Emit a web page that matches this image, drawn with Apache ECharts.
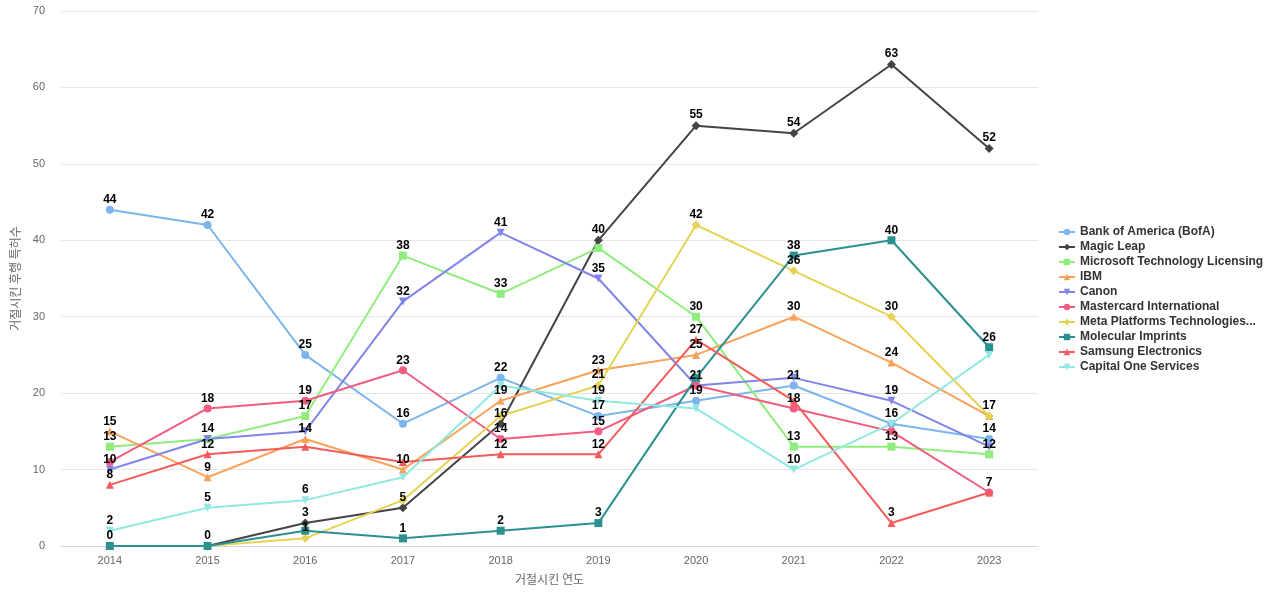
<!DOCTYPE html>
<html>
<head>
<meta charset="utf-8">
<script src="https://cdn.jsdelivr.net/npm/echarts@6/dist/echarts.min.js"></script>
<style>html,body{margin:0;padding:0;background:#fff;}#c{width:1280px;height:600px;}</style>
</head>
<body>
<div id="c"></div>
<script>
const years = ['2014','2015','2016','2017','2018','2019','2020','2021','2022','2023'];
const seriesNames = ['Bank of America (BofA)','Magic Leap','Microsoft Technology Licensing','IBM','Canon','Mastercard International','Meta Platforms Technologies...','Molecular Imprints','Samsung Electronics','Capital One Services'];
const bofa      = [44, 42, 25, 16, 22, 17, 19, 21, 16, 14];
const magicLeap = [null, 0, 3, 5, 16, 40, 55, 54, 63, 52];
const microsoft = [13, 14, 17, 38, 33, 39, 30, 13, 13, 12];
const ibm       = [15, 9, 14, 10, 19, 23, 25, 30, 24, 17];
const canon     = [10, 14, 15, 32, 41, 35, 21, 22, 19, 13];
const mastercard= [11, 18, 19, 23, 14, 15, 21, 18, 15, 7];
const meta      = [null, 0, 1, 6, 17, 21, 42, 36, 30, 17];
const molecular = [0, 0, 2, 1, 2, 3, 22, 38, 40, 26];
const samsung   = [8, 12, 13, 11, 12, 12, 27, 19, 3, 7];
const capitalOne= [2, 5, 6, 9, 21, 19, 18, 10, 16, 25];
const yTicks = [0, 10, 20, 30, 40, 50, 60, 70];

const allData = [bofa, magicLeap, microsoft, ibm, canon, mastercard, meta, molecular, samsung, capitalOne];
const colors = ['#7cb5ec','#434348','#90ed7d','#f7a35c','#8085e9','#f15c80','#e4d354','#2b908f','#f45b5b','#91e8e1'];
const triDown = 'path://M0,0 L10,0 L5,9 Z';
const symbols = ['circle','diamond','rect','triangle',triDown,'circle','diamond','rect','triangle',triDown];
const sizes = [8,9,8,8,8,8,9,8,8,8];

const chart = echarts.init(document.getElementById('c'));
chart.setOption({
  animation: false,
  color: colors,
  grid: {left: 61, right: 242, top: 11, bottom: 54},
  legend: {
    orient: 'vertical', left: 1053, top: 221,
    itemWidth: 16, itemHeight: 8, itemGap: 3,
    textStyle: {fontWeight: 'bold', fontSize: 12, color: '#333', fontFamily: 'Liberation Sans, Arial, sans-serif'},
    data: seriesNames
  },
  xAxis: {
    type: 'category', data: years, boundaryGap: true,
    name: '거절시킨 연도', nameLocation: 'middle', nameGap: 27,
    nameTextStyle: {color: '#666', fontSize: 12, fontFamily: 'Noto Sans CJK KR'},
    axisLine: {lineStyle: {color: '#ccd6eb'}},
    axisTick: {show: false},
    axisLabel: {color: '#666', fontSize: 11, margin: 9}
  },
  yAxis: {
    type: 'value', min: yTicks[0], max: yTicks[yTicks.length-1], interval: 10,
    name: '거절시킨 후행 특허수', nameLocation: 'middle', nameGap: 33,
    nameTextStyle: {color: '#666', fontSize: 12, fontFamily: 'Noto Sans CJK KR'},
    axisLine: {show: false}, axisTick: {show: false},
    splitLine: {lineStyle: {color: '#e6e6e6'}},
    axisLabel: {color: '#666', fontSize: 11, margin: 16}
  },
  series: allData.map((d, i) => ({
    name: seriesNames[i], type: 'line', data: d.map(v => v === null ? '-' : v),
    symbol: symbols[i], symbolSize: sizes[i], showAllSymbol: true,
    lineStyle: {width: 2}, itemStyle: {color: colors[i]},
    label: {show: true, position: 'top', distance: 0, color: '#000', fontWeight: 'bold', fontSize: 12},
    labelLayout: {hideOverlap: true}
  }))
});
</script>
</body>
</html>
